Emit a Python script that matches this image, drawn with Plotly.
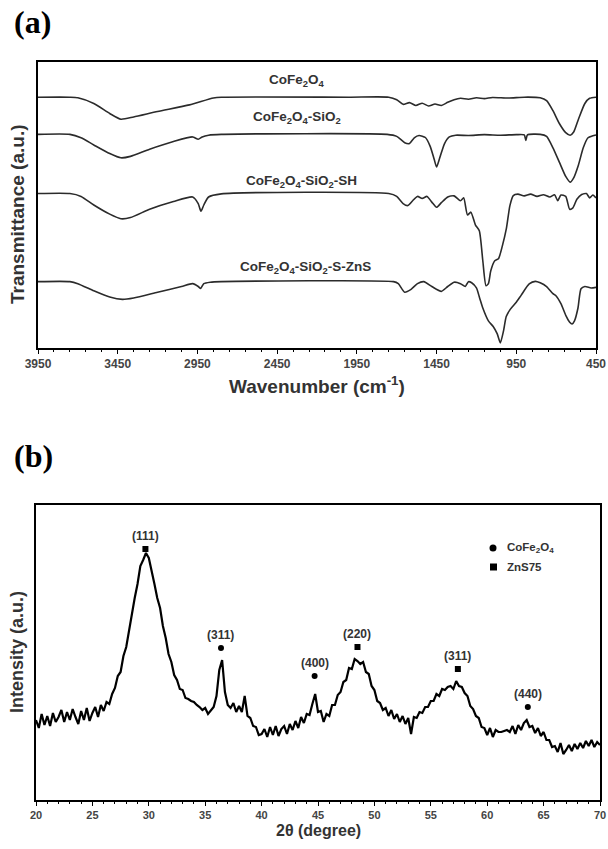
import plotly.graph_objects as go

# ---------------- (a) FTIR data ----------------
wn_cofe = [3950,3750,3700,3600,3500,3430,3350,3200,3000,2850,2800,2000,1750,1700,1660,1620,1580,1540,1500,1460,
           1420,1380,1340,1300,1250,1200,1150,1100,1000,900,800,760,720,680,640,612,590,560,520,490,450]
t_cofe = [87.7,87.7,87.5,85.5,82.0,80.0,80.8,82.7,85.0,87.4,87.7,87.7,87.7,86.8,85.2,85.8,84.8,85.6,84.6,85.3,
          84.8,85.9,86.8,87.3,87.0,87.5,87.2,87.6,87.4,87.7,87.5,86.5,83.0,78.5,75.3,74.4,75.5,80.0,85.5,87.3,87.7]

wn_sio2 = [3950,3750,3680,3600,3500,3430,3370,3250,3100,2980,2945,2920,2880,2800,1760,1700,1650,1620,1590,1560,
           1520,1490,1465,1450,1430,1400,1370,1330,1250,1150,1050,950,900,890,880,800,760,720,680,640,
           612,590,560,530,500,470,450]
t_sio2 = [74.7,74.7,73.5,71.0,68.0,66.5,67.0,69.5,72.2,73.8,73.0,73.8,74.4,74.7,74.7,74.0,71.8,71.5,73.5,74.3,
          73.6,70.5,66.0,63.3,66.5,71.5,73.8,74.4,74.3,74.6,74.4,74.6,74.5,72.6,74.5,74.7,74.0,70.0,65.0,60.0,
          58.0,59.5,64.0,70.0,73.5,74.2,74.5]

wn_sh = [3950,3750,3680,3600,3500,3430,3370,3250,3100,2980,2945,2928,2910,2880,2800,1750,1700,1660,1630,1600,
         1570,1540,1510,1480,1450,1420,1380,1340,1300,1280,1256,1235,1206,1182,1160,1140,1125,1110,1085,1062,
         1037,1012,990,969,940,900,860,820,780,740,710,690,670,640,615,595,570,540,510,490,470,450]
t_sh = [54.0,54.0,53.0,50.0,46.8,45.2,45.6,48.5,51.2,52.8,50.5,47.8,50.0,52.8,53.9,54.0,53.0,50.5,49.8,51.5,
        53.0,52.3,53.0,51.0,49.2,50.8,52.8,53.2,51.5,52.5,46.5,47.5,43.0,41.0,30.5,21.8,22.5,27.0,30.5,31.2,
        35.8,41.8,49.8,53.3,53.8,53.2,53.8,53.0,53.6,52.8,53.6,51.5,53.5,53.0,48.5,49.0,52.0,53.7,54.0,52.5,53.5,52.5]

wn_zns = [3950,3750,3700,3600,3500,3420,3350,3200,3050,2980,2945,2930,2910,2870,2800,1720,1690,1650,1610,1570,
          1530,1480,1420,1380,1340,1300,1270,1250,1230,1200,1180,1160,1125,1095,1070,1050,1030,1013,988,950,
          919,869,831,800,760,720,700,670,638,615,600,585,563,544,520,481,450]
t_zns = [23.2,23.2,22.5,20.0,17.8,17.0,17.5,19.5,21.5,22.5,21.5,20.8,22.5,23.0,23.2,23.2,22.5,19.5,20.5,22.5,
         23.2,21.5,19.8,21.5,23.0,22.5,21.5,23.2,22.8,21.0,17.5,14.0,9.5,7.5,5.0,1.8,6.0,11.0,13.5,16.0,
         18.5,22.4,23.3,22.8,21.5,19.0,18.2,15.5,11.2,9.0,8.4,9.5,14.0,20.7,21.5,21.0,21.2]

ftir_names = ["CoFe<sub>2</sub>O<sub>4</sub>", "CoFe<sub>2</sub>O<sub>4</sub>-SiO<sub>2</sub>",
              "CoFe<sub>2</sub>O<sub>4</sub>-SiO<sub>2</sub>-SH", "CoFe<sub>2</sub>O<sub>4</sub>-SiO<sub>2</sub>-S-ZnS"]
label_wn = [2325, 2325, 2300, 2275]
label_t = [93.7, 80.6, 58.2, 28.3]

# ---------------- (b) XRD data ----------------
two_theta = [20 + 0.25 * i for i in range(201)]
intensity = [
    80, 72, 86, 75,   84, 74, 87, 78,   83, 90, 78, 88,   80, 91, 83, 76,   89, 80, 92, 79,      # 20-24
    87, 93, 83, 95,   89, 98, 96, 106,  112, 124, 128, 144, 153, 170, 184, 202, 216, 234, 240, 247,  # 25-29
    242, 230, 216, 202, 192, 174, 162, 146, 138, 125, 120, 111, 110, 102, 101, 99, 98, 95, 93, 90,  # 30-34
    92, 86, 89, 93,   104, 130, 140, 108, 95, 92, 97, 88,   94, 88, 104, 84,  82, 74, 73, 65,     # 35-39
    66, 71, 63, 73,   65, 74, 64, 71,   74, 66, 76, 70,   79, 72, 83, 77,   86, 85, 96, 106,     # 40-44
    88, 89, 78, 86,   84, 95, 95, 105,  108, 118, 120, 132, 131, 141, 139, 136, 138, 128, 126, 114,  # 45-49
    110, 99, 97, 90,  92, 84, 90, 81,   86, 78, 84, 76,   82, 66, 83, 82,   88, 87, 93, 93,      # 50-54
    99, 99, 106, 104, 111, 110, 113, 114, 111, 119, 114, 113, 107, 104, 94, 91, 84, 82, 73, 72,  # 55-59
    65, 72, 63, 70,   68, 68, 69, 70,   68, 74, 66, 75,   70, 77, 80, 73,   74, 67, 72, 64,      # 60-64
    68, 60, 60, 53,   54, 48, 57, 46,   50, 55, 49, 56,   51, 57, 52, 59,   54, 60, 53, 58,      # 65-69
    55,                                                                                          # 70
]

peak_pos = [29.7, 36.4, 44.7, 48.5, 57.4, 63.6]
peak_mark = [251, 152, 124, 153, 131, 93]
peak_hkl = ["(111)", "(311)", "(400)", "(220)", "(311)", "(440)"]
peak_phase = ["ZnS75", "CoFe2O4", "CoFe2O4", "ZnS75", "ZnS75", "CoFe2O4"]
phase_names = {"CoFe2O4": "CoFe<sub>2</sub>O<sub>4</sub>", "ZnS75": "ZnS75"}
phase_symbols = {"CoFe2O4": "circle", "ZnS75": "square"}

fig = go.Figure()

line_col = "#2b2b2b"
for wn, t in [(wn_cofe, t_cofe), (wn_sio2, t_sio2), (wn_sh, t_sh), (wn_zns, t_zns)]:
    fig.add_trace(go.Scatter(x=wn, y=t, mode="lines",
                             line=dict(color=line_col, width=1.6, shape="spline", smoothing=0.6),
                             xaxis="x", yaxis="y", showlegend=False, hoverinfo="skip"))

fig.add_trace(go.Scatter(x=two_theta, y=intensity, mode="lines", line=dict(color="black", width=2.2),
                         xaxis="x2", yaxis="y2", showlegend=False, hoverinfo="skip"))

for phase in ["CoFe2O4", "ZnS75"]:
    xs = [p for p, ph in zip(peak_pos, peak_phase) if ph == phase]
    ys = [m for m, ph in zip(peak_mark, peak_phase) if ph == phase]
    fig.add_trace(go.Scatter(x=xs, y=ys, mode="markers",
                             marker=dict(symbol=phase_symbols[phase], size=6, color="black"),
                             name=phase_names[phase], xaxis="x2", yaxis="y2", showlegend=False,
                             hoverinfo="skip"))

W, H = 608, 849
def px(x):
    return x / W
def py(y):
    return 1 - y / H

annotations = []
for name, x, y in zip(ftir_names, label_wn, label_t):
    annotations.append(dict(x=x, y=y, xref="x", yref="y", text=name, showarrow=False,
                            font=dict(family="Liberation Sans", size=13.5, color="#333", weight="bold")))

for p, m, hkl in zip(peak_pos, peak_mark, peak_hkl):
    annotations.append(dict(x=p, y=m, xref="x2", yref="y2", text=hkl, showarrow=False, yshift=13,
                            font=dict(family="Liberation Sans", size=12, color="#333", weight="bold")))

# legend of panel (b), drawn as marker shapes with text
shapes = [
    dict(type="circle", xref="paper", yref="paper", x0=px(489.5), x1=px(496.5), y0=py(551.5), y1=py(544.5),
         fillcolor="black", line=dict(width=0)),
    dict(type="rect", xref="paper", yref="paper", x0=px(490), x1=px(497), y0=py(570.5), y1=py(563.5),
         fillcolor="black", line=dict(width=0)),
]
legend_font = dict(family="Liberation Sans", size=11.5, color="#333", weight="bold")
annotations += [
    dict(x=px(505), y=py(548), xref="paper", yref="paper", text=phase_names["CoFe2O4"], showarrow=False,
         xanchor="left", yanchor="middle", font=legend_font),
    dict(x=px(505), y=py(567), xref="paper", yref="paper", text=phase_names["ZnS75"], showarrow=False,
         xanchor="left", yanchor="middle", font=legend_font),
]

annotations += [
    dict(x=px(12), y=py(22), xref="paper", yref="paper", text="(a)", showarrow=False, xanchor="left",
         yanchor="middle", font=dict(family="Liberation Serif", size=32, color="black", weight="bold")),
    dict(x=px(12), y=py(456), xref="paper", yref="paper", text="(b)", showarrow=False, xanchor="left",
         yanchor="middle", font=dict(family="Liberation Serif", size=32, color="black", weight="bold")),
    dict(x=px(317), y=py(385), xref="paper", yref="paper", text="Wavenumber (cm<sup>-1</sup>)", showarrow=False,
         yanchor="middle", font=dict(family="Liberation Sans", size=19, color="#333", weight="bold")),
    dict(x=px(17), y=py(214), xref="paper", yref="paper", text="Transmittance (a.u.)", showarrow=False,
         textangle=-90, xanchor="center", yanchor="middle",
         font=dict(family="Liberation Sans", size=19, color="#333", weight="bold")),
    dict(x=px(318), y=py(830), xref="paper", yref="paper", text="2θ (degree)", showarrow=False,
         yanchor="middle", font=dict(family="Liberation Sans", size=16, color="#333", weight="bold")),
    dict(x=px(17), y=py(652), xref="paper", yref="paper", text="Intensity (a.u.)", showarrow=False,
         textangle=-90, xanchor="center", yanchor="middle",
         font=dict(family="Liberation Sans", size=18, color="#333", weight="bold")),
]

frame = dict(showline=True, linecolor="black", linewidth=2, mirror=True, showgrid=False, zeroline=False,
             automargin=False)

fig.update_layout(
    width=W, height=H, margin=dict(l=0, r=0, t=0, b=0, pad=0, autoexpand=False),
    paper_bgcolor="white", plot_bgcolor="white",
    xaxis=dict(domain=[px(38), px(596)], range=[3950, 450], anchor="y", tickmode="linear", tick0=450, dtick=500,
               ticks="outside", ticklen=4, tickwidth=1, tickcolor="black",
               tickfont=dict(family="Liberation Sans", size=12, color="#444", weight="bold"),
               minor=dict(dtick=100, tick0=450, ticks="outside", ticklen=2, tickcolor="black"), **frame),
    yaxis=dict(domain=[py(348), py(62)], range=[0, 100], anchor="x", showticklabels=False, ticks="", **frame),
    xaxis2=dict(domain=[px(36), px(600)], range=[20, 70], anchor="y2", tickmode="linear", tick0=20, dtick=5,
                ticks="outside", ticklen=4, tickwidth=1, tickcolor="black",
                tickfont=dict(family="Liberation Sans", size=11, color="#444", weight="bold"),
                minor=dict(dtick=1, tick0=20, ticks="outside", ticklen=2, tickcolor="black"), **frame),
    yaxis2=dict(domain=[py(800), py(505)], range=[0, 295], anchor="x2", showticklabels=False, ticks="", **frame),
    annotations=annotations,
    shapes=shapes,
    showlegend=False,
)

fig.write_html("out.html")
